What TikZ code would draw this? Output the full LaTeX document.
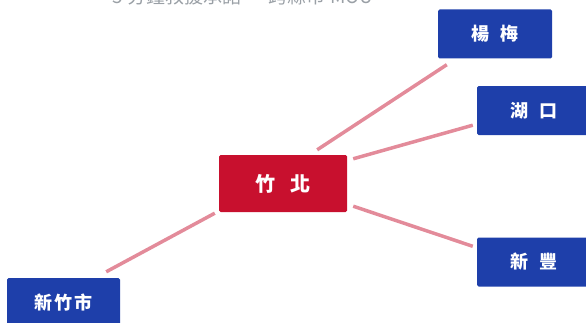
\documentclass[tikz,border=0pt]{standalone}
\usepackage{fontspec}
\newfontfamily\cjk{Noto Sans CJK TC}
\definecolor{zbred}{HTML}{C8102E}
\definecolor{navy}{HTML}{1E3FAA}
\definecolor{linkpink}{HTML}{E38B9A}
\definecolor{titlegray}{HTML}{9AA0A6}
\begin{document}
\begin{tikzpicture}[x=1pt,y=1pt,
  hub/.style={fill=zbred, rounded corners=1.5pt, minimum width=128pt, minimum height=57pt, text=white, font=\cjk\bfseries\fontsize{20}{24}\selectfont, inner sep=0pt},
  town/.style={fill=navy, rounded corners=1.5pt, minimum width=114pt, minimum height=49pt, text=white, font=\cjk\bfseries\fontsize{18}{21}\selectfont, inner sep=0pt},
  link/.style={draw=linkpink, line width=3.5pt},
  titletext/.style={text=titlegray, font=\cjk\fontsize{19}{22}\selectfont, anchor=base, inner sep=0pt}]
\clip (0,0) rectangle (586,322);
\node[titletext] (title) at (243,318) {5 分鐘救援承諾 · 跨縣市 MOU};
\node[hub] (zb) at (283,138.5) {竹\hspace{0.75em}北};
\node[town] (ym) at (495,288) {楊\hspace{0.6em}梅};
\node[town] (hk) at (534,211.5) {湖\hspace{0.6em}口};
\node[town] (xf) at (534,60) {新\hspace{0.6em}豐};
\node[town, minimum width=113pt] (xz) at (63.5,19.5) {新\hspace{0.1em}竹\hspace{0.1em}市};
\draw[link] ([shift={(-30,5)}]zb.north east) -- ([shift={(9,-6)}]ym.south west);
\draw[link] ([shift={(6,-4)}]zb.north east) -- ([shift={(-4,10)}]hk.south west);
\draw[link] ([shift={(6,6)}]zb.south east) -- ([shift={(-4,-9)}]xf.north west);
\draw[link] ([shift={(-4,-1)}]zb.south west) -- ([shift={(-14,6)}]xz.north east);
\end{tikzpicture}
\end{document}
